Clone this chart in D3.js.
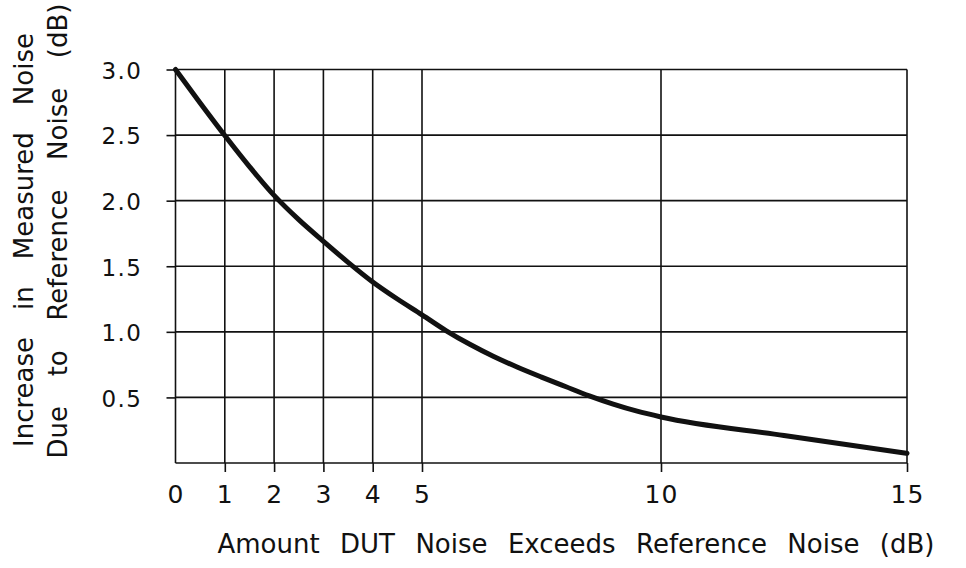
<!DOCTYPE html>
<html>
<head>
<meta charset="utf-8">
<script src="https://cdn.jsdelivr.net/npm/d3@7"></script>
<style>
  html, body { margin: 0; padding: 0; background: #fff; }
  svg { display: block; }
  text { font-family: "DejaVu Sans", "Liberation Sans", sans-serif; fill: #111; }
</style>
</head>
<body>
<svg id="chart" width="966" height="568"></svg>
<script>
// ---- data ----
const xValues = [0, 0.5, 1, 1.5, 2, 2.5, 3, 3.5, 4, 4.5, 5, 5.5, 6, 6.5, 7, 7.5, 8, 8.5, 9, 9.5, 10, 12.5, 15];
const yValues = [3.0, 2.745, 2.497, 2.26, 2.04, 1.855, 1.69, 1.53, 1.38, 1.25, 1.13, 1.01, 0.905, 0.812, 0.73, 0.655, 0.583, 0.512, 0.449, 0.395, 0.351, 0.21, 0.074];
const xTicks = [0, 1, 2, 3, 4, 5, 10, 15];
const yTicks = [0.5, 1.0, 1.5, 2.0, 2.5, 3.0];
const xTitle = "Amount DUT Noise Exceeds Reference Noise (dB)";
const yTitle1 = "Increase in Measured Noise";
const yTitle2 = "Due to Reference Noise (dB)";

// ---- layout ----
const svg = d3.select("#chart");
const x = d3.scaleLinear().domain([0, 5, 10, 15]).range([175.5, 422, 661, 907]);
const y = d3.scaleLinear().domain([0, 3]).range([463, 69.5]);

const ink = "#111";

// grid
const g = svg.append("g");
g.selectAll("line.vg").data(xTicks).join("line")
  .attr("x1", d => x(d)).attr("x2", d => x(d))
  .attr("y1", y(3)).attr("y2", y(0))
  .attr("stroke", ink).attr("stroke-width", 1.6);
g.selectAll("line.hg").data([0].concat(yTicks)).join("line")
  .attr("x1", x(0)).attr("x2", x(15))
  .attr("y1", d => y(d)).attr("y2", d => y(d))
  .attr("stroke", ink).attr("stroke-width", 1.6);

// y axis
const yAxis = svg.append("g").attr("transform", `translate(${x(0)},0)`)
  .call(d3.axisLeft(y).tickValues(yTicks).tickFormat(d3.format(".1f")).tickSize(9).tickPadding(24));
yAxis.select(".domain").remove();
yAxis.selectAll(".tick line").attr("stroke", ink).attr("stroke-width", 1.6);
yAxis.selectAll(".tick text").attr("font-size", 23).attr("letter-spacing", 1.5)
  .attr("font-family", "DejaVu Sans").attr("fill", ink).attr("dy", "0.38em");

// x axis
const xAxis = svg.append("g").attr("transform", `translate(0,${y(0)})`)
  .call(d3.axisBottom(x).tickValues(xTicks).tickFormat(d3.format("d")).tickSize(9).tickPadding(13));
xAxis.select(".domain").remove();
xAxis.selectAll(".tick line").attr("stroke", ink).attr("stroke-width", 1.6)
  .attr("opacity", d => d === 0 ? 0 : 1);
xAxis.selectAll(".tick text").attr("font-size", 25).attr("letter-spacing", 1)
  .attr("font-family", "DejaVu Sans").attr("fill", ink);

// curve
const pts = xValues.map((v, i) => [v, yValues[i]]);
svg.append("path").datum(pts)
  .attr("fill", "none").attr("stroke", ink).attr("stroke-width", 5)
  .attr("stroke-linejoin", "round").attr("stroke-linecap", "round")
  .attr("d", d3.line().x(d => x(d[0])).y(d => y(d[1])).curve(d3.curveMonotoneX));

// titles with word spacing fitted to target length
function fitWords(sel, target) {
  sel.attr("word-spacing", 0);
  const len0 = sel.node().getComputedTextLength();
  const gaps = sel.text().split(" ").length - 1;
  sel.attr("word-spacing", Math.max(0, (target - len0) / gaps));
}
const xt = svg.append("text").attr("x", 576).attr("y", 553)
  .attr("text-anchor", "middle").attr("font-size", 26).text(xTitle);
fitWords(xt, 717);

const yt1 = svg.append("text").attr("transform", "translate(33,240) rotate(-90)")
  .attr("text-anchor", "middle").attr("font-size", 26).text(yTitle1);
fitWords(yt1, 414);
const yt2 = svg.append("text").attr("transform", "translate(67,231) rotate(-90)")
  .attr("text-anchor", "middle").attr("font-size", 26).text(yTitle2);
fitWords(yt2, 455);
</script>
</body>
</html>
